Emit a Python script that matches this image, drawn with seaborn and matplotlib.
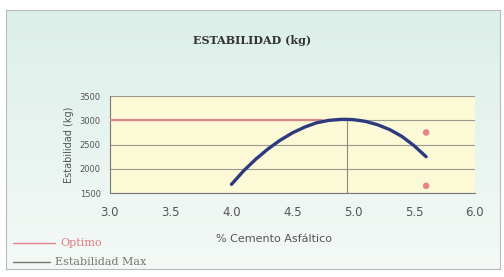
import matplotlib
matplotlib.use("Agg")
import matplotlib.pyplot as plt
import numpy as np
import pandas as pd
import seaborn as sns

# curve (% asphalt cement vs stability)
cemento = [4.0, 4.1, 4.2, 4.3, 4.4, 4.5, 4.6, 4.7, 4.8, 4.9, 4.95, 5.0, 5.1, 5.2, 5.3, 5.4, 5.5, 5.6]
estabilidad = [1680, 1960, 2200, 2410, 2590, 2740, 2860, 2950, 3000, 3020, 3020, 3015,
               2980, 2910, 2810, 2670, 2480, 2250]

# limit points (red markers)
limite_x = [5.6, 5.6]
limite_y = [2750, 1650]

optimo = 3000
cemento_max = 4.95

sns.set_style("white")
plt.rcParams["font.family"] = ["DejaVu Sans"]

fig = plt.figure(figsize=(5.04, 2.77), dpi=100)
fig.patch.set_facecolor("white")

# pale mint panel behind everything
bg = fig.add_axes([0.012, 0.03, 0.98, 0.935], zorder=-5)
grad = np.linspace(0, 1, 100).reshape(-1, 1)
bg.imshow(grad, aspect="auto", cmap=matplotlib.colors.LinearSegmentedColormap.from_list(
    "m", ["#dcefe9", "#f4f9f6"]), extent=[0, 1, 0, 1])
bg.set_xticks([])
bg.set_yticks([])
for s in bg.spines.values():
    s.set_color("#b5bdb9")

ax = fig.add_axes([0.218, 0.303, 0.724, 0.35])
ax.set_facecolor("#fcf9d6")

df = pd.DataFrame({"x": cemento, "y": estabilidad})
sns.lineplot(data=df, x="x", y="y", ax=ax, color="#2e3a80", lw=2.4, zorder=4)
sns.scatterplot(x=limite_x, y=limite_y, ax=ax, color="#e8828a", s=22,
                edgecolor="none", zorder=5)

ax.axhline(optimo, color="#d9868a", lw=1.6, zorder=3, xmax=0.58)
ax.plot([cemento_max, cemento_max], [1500, optimo], color="#8c8c78", lw=0.8, zorder=2)

ax.set_xlim(3.0, 6.0)
ax.set_ylim(1500, 3500)
ax.set_xticks(np.arange(3.0, 6.01, 0.5))
ax.set_yticks(range(1500, 3501, 500))
ax.set_xticklabels([f"{v:.1f}" for v in np.arange(3.0, 6.01, 0.5)])
ax.yaxis.grid(True, color="#9a9a90", lw=0.8)
ax.tick_params(labelsize=8.5, colors="#555555", length=3)
ax.tick_params(axis="x", pad=6)
ax.tick_params(axis="y", labelsize=6)
for s in ax.spines.values():
    s.set_color("#777777")
    s.set_linewidth(0.8)
ax.spines["right"].set_visible(False)
ax.spines["top"].set_visible(False)

ax.set_xlabel("% Cemento Asfáltico", fontsize=8, color="#555555")
ax.xaxis.set_label_coords(0.45, -0.42)
ax.set_ylabel("Estabilidad (kg)", fontsize=7, color="#555555", labelpad=4)

fig.text(0.5, 0.84, "ESTABILIDAD (kg)", ha="center", fontsize=8,
         fontweight="bold", family="DejaVu Serif", color="#333333")

# legend below the axis, left side
fig.lines.append(plt.Line2D([0.026, 0.11], [0.123, 0.123], color="#d9868a", lw=1,
                            transform=fig.transFigure))
fig.lines.append(plt.Line2D([0.026, 0.10], [0.054, 0.054], color="#6f7a72", lw=1,
                            transform=fig.transFigure))
fig.text(0.12, 0.123, "Optimo", fontsize=8, color="#e07a84", va="center",
         family="DejaVu Serif")
fig.text(0.11, 0.054, "Estabilidad Max", fontsize=8, color="#6f7a72", va="center",
         family="DejaVu Serif")

fig.savefig("out.png", dpi=100)
